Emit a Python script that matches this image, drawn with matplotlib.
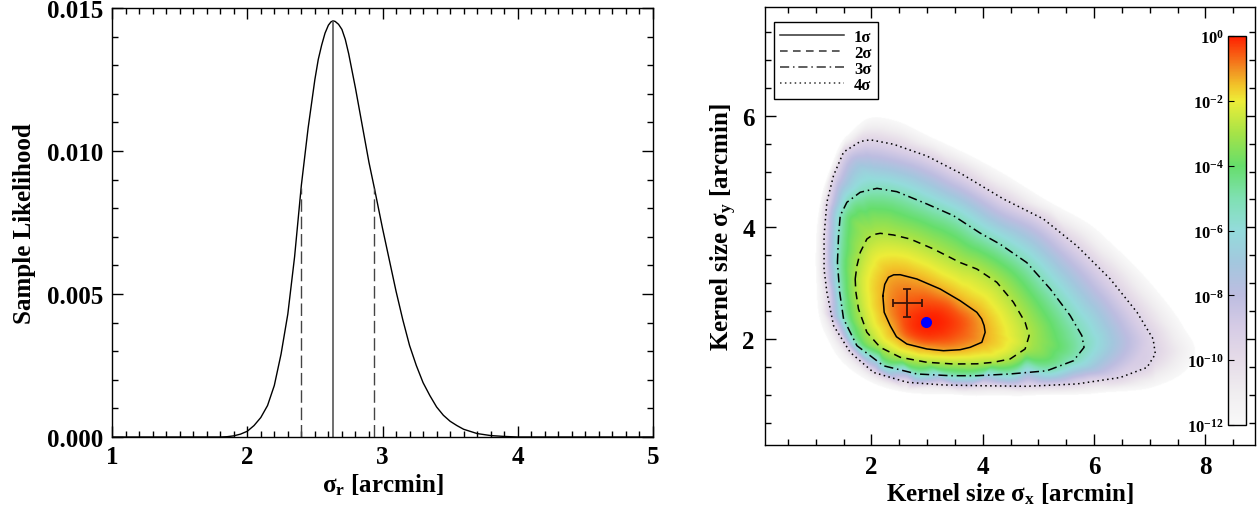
import numpy as np
import matplotlib
matplotlib.use('Agg')
import matplotlib.pyplot as plt
import matplotlib.tri as mtri
from matplotlib.colors import LinearSegmentedColormap, LogNorm
from matplotlib.lines import Line2D
from matplotlib.ticker import MultipleLocator, FixedLocator, FixedFormatter, FormatStrFormatter

plt.rcParams['font.family'] = ['Liberation Serif', 'DejaVu Serif']
plt.rcParams['font.weight'] = 'bold'
plt.rcParams['mathtext.fontset'] = 'custom'
plt.rcParams['mathtext.rm'] = 'Liberation Serif:bold'
plt.rcParams['mathtext.it'] = 'Liberation Serif:bold'
plt.rcParams['mathtext.bf'] = 'Liberation Serif:bold'

# ---------------- left panel data ----------------
sigma_r = [1.00, 1.80, 1.85, 1.90, 1.95, 2.00, 2.05, 2.10, 2.15, 2.20, 2.25, 2.30, 2.35,
           2.40, 2.45, 2.50, 2.525, 2.55, 2.575, 2.60, 2.62, 2.636, 2.65, 2.675, 2.70,
           2.725, 2.75, 2.80, 2.85, 2.90, 2.94,
           3.00, 3.05, 3.10, 3.15, 3.20, 3.25, 3.30, 3.35, 3.40, 3.45, 3.50, 3.55, 3.60,
           3.70, 3.80, 3.90, 4.00, 5.00]
likelihood = [0.0, 0.0, 0.00001, 0.00004, 0.0001, 0.0002, 0.0004, 0.00068, 0.0011,
              0.0018, 0.0029, 0.0043, 0.0063, 0.0088, 0.0108, 0.0125, 0.0132, 0.0137,
              0.01412, 0.01440, 0.01452, 0.01455, 0.01453, 0.01443, 0.01425,
              0.0139, 0.0134, 0.0122, 0.0109, 0.0096, 0.0087, 0.0073, 0.0062,
              0.0051, 0.0041, 0.0032, 0.0025, 0.0019, 0.00145, 0.00105, 0.00076, 0.00055,
              0.0004, 0.00027, 0.00012, 0.00005, 0.00002, 0.0, 0.0]
median_x, median_y = 2.636, 0.01455
lo_x, lo_y = 2.395, 0.0087
hi_x, hi_y = 2.937, 0.0087

# ---------------- right panel data ----------------
peak_x, peak_y, peak_level = 3.05, 2.30, 0.0
core_x = [2.55, 2.70, 3.00, 3.35, 3.60, 3.55, 3.30, 2.95, 2.65]
core_y = [2.45, 2.62, 2.68, 2.58, 2.35, 2.10, 1.98, 1.97, 2.10]
core_level = -0.5
s1_x = [2.206, 2.24, 2.307, 2.40, 2.517, 2.817, 3.235, 3.594, 3.894, 3.98, 4.025, 4.043,
        3.984, 3.774, 3.594, 3.294, 2.996, 2.637, 2.45, 2.338, 2.230]
s1_y = [2.776, 2.98, 3.106, 3.15, 3.152, 3.075, 2.896, 2.686, 2.478, 2.36, 2.238, 2.120,
        1.941, 1.851, 1.808, 1.790, 1.821, 1.910, 2.04, 2.238, 2.478]
s2_x = [1.709, 1.74, 1.80, 1.919, 2.03, 2.158, 2.397, 2.697, 3.115, 3.594, 3.894, 4.253,
        4.551, 4.761, 4.833, 4.761, 4.492, 4.192, 3.894, 3.474, 2.996, 2.517, 2.158,
        1.919, 1.768, 1.72]
s2_y = [3.075, 3.31, 3.554, 3.792, 3.87, 3.894, 3.864, 3.792, 3.613, 3.37, 3.254, 3.016,
        2.658, 2.299, 2.059, 1.821, 1.642, 1.582, 1.555, 1.552, 1.582, 1.672, 1.851,
        2.12, 2.538, 2.85]
s3_x = [1.39, 1.41, 1.44, 1.56, 1.80, 2.10, 2.458, 2.996, 3.474, 3.95, 4.31, 4.79,
        5.21, 5.57, 5.78, 5.82, 5.63, 5.15, 4.49, 3.894, 3.415, 2.817, 2.217, 1.74,
        1.50, 1.43]
s3_y = [3.37, 3.85, 4.21, 4.45, 4.63, 4.70, 4.64, 4.42, 4.21, 3.90, 3.70, 3.37,
        2.90, 2.42, 2.06, 1.85, 1.61, 1.43, 1.373, 1.342, 1.342, 1.373, 1.52, 1.88,
        2.36, 2.84]
s4_x = [1.15, 1.15, 1.20, 1.32, 1.50, 1.80, 1.978, 2.397, 2.996, 3.60, 4.37, 5.09,
        5.69, 6.29, 6.77, 7.06, 7.10, 6.95, 6.47, 5.69, 4.79, 3.95, 3.29, 2.64, 2.04,
        1.62, 1.32, 1.20]
s4_y = [3.25, 3.85, 4.45, 4.93, 5.35, 5.54, 5.57, 5.49, 5.28, 4.97, 4.51, 4.15,
        3.67, 3.075, 2.48, 2.00, 1.73, 1.49, 1.31, 1.194, 1.152, 1.163, 1.176, 1.224,
        1.40, 1.76, 2.24, 2.84]
edge_x = [1.00, 1.00, 1.10, 1.30, 1.55, 1.98, 2.40, 3.10, 4.30, 5.20, 6.10, 7.00,
          7.60, 7.80, 7.65, 7.10, 6.00, 4.80, 3.60, 2.60, 1.92, 1.45, 1.15, 1.03]
edge_y = [3.00, 3.90, 4.60, 5.20, 5.65, 5.97, 5.92, 5.60, 5.00, 4.45, 3.90, 3.00,
          2.20, 1.80, 1.45, 1.15, 1.02, 0.98, 0.99, 1.04, 1.25, 1.60, 2.10, 2.50]
far_x = [-0.5, 4.5, 9.5, 9.5, 9.5, 4.5, -0.5, -0.5]
far_y = [-0.5, -0.5, -0.5, 4.0, 8.5, 8.5, 8.5, 4.0]
sigma_levels = [-1.3, -2.9, -5.3, -9.6]
edge_level, far_level = -12.0, -20.0
best_x, best_y = 2.98, 2.30
meas_x, meas_y, meas_ex, meas_ey = 2.64, 2.645, 0.26, 0.25
legend_labels = ['1σ', '2σ', '3σ', '4σ']
cbar_ticks = [1e-12, 1e-10, 1e-8, 1e-6, 1e-4, 1e-2, 1e0]
cbar_labels = ['$10^{-12}$', '$10^{-10}$', '$10^{-8}$', '$10^{-6}$', '$10^{-4}$',
               '$10^{-2}$', '$10^{0}$']

# colour table (log10 level -> colour)
cmap_pos = [0.0, 1/12, 2/12, 3/12, 4/12, 5/12, 6/12, 7/12, 8/12, 9/12, 10/12, 10.5/12, 11/12, 1.0]
cmap_col = [(0.975, 0.975, 0.975), (0.94, 0.93, 0.94), (0.90, 0.86, 0.91),
            (0.84, 0.80, 0.90), (0.74, 0.74, 0.88), (0.64, 0.78, 0.87),
            (0.58, 0.86, 0.86), (0.50, 0.88, 0.70), (0.40, 0.87, 0.42),
            (0.65, 0.89, 0.28), (0.93, 0.93, 0.22), (0.95, 0.76, 0.16),
            (0.95, 0.55, 0.13), (1.0, 0.12, 0.0)]
cmap = LinearSegmentedColormap.from_list('like', list(zip(cmap_pos, cmap_col)), N=512)
cmap = cmap.with_extremes(under='white', over=(1.0, 0.12, 0.0))

fig = plt.figure(figsize=(12.57, 5.06), dpi=100)

# ================= LEFT PANEL =================
ax1 = fig.add_axes([112/1257, 1-438/506, 541/1257, 429/506])
ax1.plot(sigma_r, likelihood, color='black', lw=1.0)
ax1.plot([median_x, median_x], [0, median_y], color='#555555', lw=1.2)
for xx, yy in [(lo_x, lo_y), (hi_x, hi_y)]:
    ax1.plot([xx, xx], [0, yy], color='#444444', lw=1.0, dashes=(9, 3.5))
ax1.set_xlim(1, 5)
ax1.set_ylim(0, 0.015)
ax1.xaxis.set_major_locator(MultipleLocator(1))
ax1.xaxis.set_minor_locator(MultipleLocator(0.1))
ax1.yaxis.set_major_locator(MultipleLocator(0.005))
ax1.yaxis.set_minor_locator(MultipleLocator(0.001))
ax1.yaxis.set_major_formatter(FormatStrFormatter('%.3f'))
ax1.tick_params(which='both', direction='in', top=True, right=True, width=1.0)
ax1.tick_params(which='major', length=8, labelsize=18, pad=6)
ax1.tick_params(which='minor', length=4.5)
ax1.set_xlabel('σ$_{\\rm r}$ [arcmin]', fontsize=18, fontweight='bold', labelpad=2)
ax1.set_ylabel('Sample Likelihood', fontsize=18, fontweight='bold', labelpad=8)
for s in ax1.spines.values():
    s.set_linewidth(1.0)

# ================= RIGHT PANEL =================
ax2 = fig.add_axes([764.5/1257, 1-446/506, 490.5/1257, 438/506])
xlim2 = (0.08, 8.89)
ylim2 = (0.10, 7.95)

pts_x = [peak_x] + core_x + s1_x + s2_x + s3_x + s4_x + edge_x + far_x
pts_y = [peak_y] + core_y + s1_y + s2_y + s3_y + s4_y + edge_y + far_y
pts_z = ([peak_level] + [core_level]*len(core_x) + [sigma_levels[0]]*len(s1_x)
         + [sigma_levels[1]]*len(s2_x) + [sigma_levels[2]]*len(s3_x)
         + [sigma_levels[3]]*len(s4_x) + [edge_level]*len(edge_x) + [far_level]*len(far_x))
tri = mtri.Triangulation(np.array(pts_x), np.array(pts_y))
interp = mtri.CubicTriInterpolator(tri, np.array(pts_z), kind='geom')
gx = np.linspace(xlim2[0], xlim2[1], 700)
gy = np.linspace(ylim2[0], ylim2[1], 620)
GX, GY = np.meshgrid(gx, gy)
Z = interp(GX, GY).filled(far_level)
im = ax2.imshow(10.0**Z, extent=[xlim2[0], xlim2[1], ylim2[0], ylim2[1]], origin='lower',
                cmap=cmap, norm=LogNorm(1e-12, 1.0), interpolation='bilinear', aspect='auto')

styles = [dict(linestyle='-'), dict(linestyle=(0, (5, 3.5))),
          dict(linestyle=(0, (6, 2.5, 1, 2.5))), dict(linestyle=(0, (1, 2.2)))]
for (cx, cy), st in zip([(s1_x, s1_y), (s2_x, s2_y), (s3_x, s3_y), (s4_x, s4_y)], styles):
    ax2.plot(list(cx) + [cx[0]], list(cy) + [cy[0]], color='black', lw=1.1,
             solid_joinstyle='round', **st)

ax2.errorbar([meas_x], [meas_y], xerr=[meas_ex], yerr=[meas_ey], color='#3d1408',
             lw=1.3, capsize=3, capthick=1.3)
ax2.plot([best_x], [best_y], 'o', color='#0000ff', ms=7, mec='#0000ff')

ax2.set_xlim(*xlim2)
ax2.set_ylim(*ylim2)
ax2.xaxis.set_major_locator(FixedLocator([2, 4, 6, 8]))
ax2.xaxis.set_minor_locator(MultipleLocator(0.5))
ax2.yaxis.set_major_locator(FixedLocator([2, 4, 6]))
ax2.yaxis.set_minor_locator(MultipleLocator(0.5))
ax2.tick_params(which='both', direction='in', top=True, right=True, width=1.0)
ax2.tick_params(which='major', length=8, labelsize=18, pad=7)
ax2.tick_params(which='minor', length=4.5)
ax2.set_xlabel('Kernel size σ$_{\\rm x}$ [arcmin]', fontsize=18, fontweight='bold', labelpad=2)
ax2.set_ylabel('Kernel size σ$_{\\rm y}$ [arcmin]', fontsize=18, fontweight='bold', labelpad=2)
for s in ax2.spines.values():
    s.set_linewidth(1.0)

handles = [Line2D([], [], color='#333333', lw=1.1, **st) for st in styles]
leg = ax2.legend(handles, legend_labels, loc='upper left', bbox_to_anchor=(0.019, 0.966),
                 borderaxespad=0, frameon=True, fancybox=False, edgecolor='black',
                 framealpha=1, handlelength=3.8, handletextpad=0.6, labelspacing=0.0,
                 borderpad=0.4, prop={'size': 12, 'weight': 'bold'})
leg.get_frame().set_linewidth(1.0)

cax = fig.add_axes([1228/1257, 1-426/506, 18/1257, 389/506])
cb = fig.colorbar(im, cax=cax, ticks=cbar_ticks)
cb.ax.minorticks_off()
cb.ax.yaxis.set_ticks_position('left')
cb.ax.yaxis.set_major_locator(FixedLocator(cbar_ticks))
cb.ax.yaxis.set_major_formatter(FixedFormatter(cbar_labels))
cb.ax.tick_params(direction='in', length=4, labelsize=12, pad=3)
cb.outline.set_linewidth(1.0)

fig.savefig('out.png', dpi=100)
